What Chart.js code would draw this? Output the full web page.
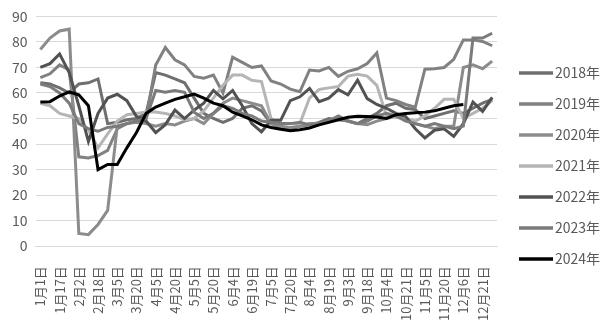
<!DOCTYPE html>
<html>
<head>
<meta charset="utf-8">
<script src="https://cdn.jsdelivr.net/npm/chart.js@4.4.1/dist/chart.umd.min.js"></script>
<style>
  html, body { margin: 0; padding: 0; background: #ffffff; }
</style>
</head>
<body>
<canvas id="grafico" width="607" height="334"></canvas>
<script>
// tick labels shown on the x axis (every second weekly point)
const rotulos = ['1月1日', '1月17日', '2月2日', '2月18日', '3月5日', '3月20日', '4月5日', '4月20日',
    '5月5日', '5月20日', '6月4日', '6月19日', '7月5日', '7月20日', '8月4日', '8月19日',
    '9月3日', '9月18日', '10月4日', '10月21日', '11月5日', '11月20日', '12月6日', '12月21日']

const anos = ['2018年', '2019年', '2020年', '2021年', '2022年', '2023年', '2024年']
const cores = ['#6f6f6f', '#818181', '#8c8c8c', '#b5b5b5', '#525252', '#7b7b7b', '#000000']

const valores2018 = [64, 63.5, 62, 60, 63.5, 64, 65.5, 48, 48.5, 49.5, 50, 52, 68, 67, 65.5, 64,
    58, 52, 50, 48.5, 50, 54, 55, 53, 48, 46.5, 46, 47, 47.5, 48.5, 50, 49.5,
    49, 48, 50, 52, 55, 56, 54, 53.5, 50, 51, 52, 53, 52, 54, 56, 57.5]
const valores2019 = [66, 67.5, 71, 69, 35, 34.5, 35.5, 37.5, 46, 48, 49, 50, 71, 77.8, 73, 71,
    66.5, 65.8, 67, 60, 74, 72, 70, 70.6, 64.7, 63.5, 61.5, 60.5, 69, 68.6, 70, 66.5,
    68.5, 69.5, 71.5, 75.7, 58, 57, 55.5, 54.4, 69.3, 69.5, 70, 73.2, 80.8, 80.8, 80.2, 78.5]
const valores2020 = [77, 81.5, 84.3, 85, 5, 4.5, 8.5, 14, 47, 48, 48.5, 48, 47, 48, 47.5, 49,
    50, 48, 52, 56, 58, 57, 56, 55, 48, 47, 46.5, 47, 48, 48, 49, 50,
    49, 48, 47.6, 49, 50, 51, 50, 48, 47, 46, 47, 47, 70, 71, 69.5, 72.5]
const valores2021 = [56, 55, 52, 51, 50, 45.5, 38.5, 44, 49, 51.5, 52, 52.5, 52.5, 52, 51, 49.5,
    50, 53, 58, 63, 67, 67, 65, 64.5, 50, 48, 48, 48, 58, 61.4, 62, 62.5,
    66.6, 67.3, 66.6, 63, 51, 50.5, 50, 49, 51, 54, 57.5, 57.5, 50, 52, 54, 57]
const valores2022 = [70, 71.5, 75.3, 68, 55, 41, 52, 58, 59.5, 57, 50.8, 49, 44.5, 47.6, 53.3, 50,
    53.3, 56, 61, 57.7, 61, 55, 48, 44.8, 49.3, 49.3, 57, 58.5, 61.8, 56.6, 58, 61.3,
    59.3, 65, 57.8, 55.5, 54, 52, 50.8, 46, 42.4, 45.4, 46, 43, 48, 56.4, 52.8, 58.3]
const valores2023 = [63.5, 62.5, 60, 56, 48, 46, 45, 46.5, 47, 48, 49, 50, 61, 60.3, 61, 60.3,
    52.5, 50, 52, 55, 54, 52, 51, 49, 48.5, 48, 48, 48.5, 47.5, 48, 49, 51,
    49, 48, 49, 51, 52, 51, 49, 48, 47, 48, 47, 46, 47, 81.5, 81.5, 83.4]
const valores2024 = [56.5, 56.6, 58.8, 60.4, 59.3, 55, 30, 32, 32, 38.5, 44.5, 52, 54.5, 56, 57.5, 58.5,
    59.6, 58, 56, 55, 52.5, 51, 49.5, 47.5, 46.5, 45.8, 45.2, 45.6, 46.3, 47.5, 48.5, 49.5,
    50.5, 50.9, 50.8, 50.6, 50, 51.5, 52, 52.3, 52.5, 53, 54, 55, 55.5, null, null, null]

const series = [valores2018, valores2019, valores2020, valores2021, valores2022, valores2023, valores2024]

// each label covers two weekly points; the in-between points carry no label
let categorias = []
for (let i = 0; i < rotulos.length; i++) {
    categorias.push(rotulos[i])
    categorias.push('')
}

let datasets = []
for (let i = 0; i < anos.length; i++) {
    datasets.push({
        label: anos[i],
        data: series[i],
        borderColor: cores[i],
        backgroundColor: cores[i],
        borderWidth: 3,
        pointRadius: 0,
        tension: 0,
        order: anos.length - i   // 2024 drawn last, on top
    })
}

const fonte = "'Noto Sans CJK SC', 'Noto Sans', sans-serif"

// legend like the excel one: short line + text, one row per year, in dataset order
const legendaLateral = {
    id: 'legendaLateral',
    afterDraw(chart) {
        const ctx = chart.ctx
        const area = chart.chartArea
        const x0 = area.right + 22
        const y0 = 73
        ctx.save()
        ctx.font = '14px ' + fonte
        ctx.textBaseline = 'middle'
        chart.data.datasets.forEach(function (ds, i) {
            const y = y0 + i * 31
            ctx.strokeStyle = ds.borderColor
            ctx.lineWidth = 3.5
            ctx.beginPath()
            ctx.moveTo(x0, y)
            ctx.lineTo(x0 + 34, y)
            ctx.stroke()
            ctx.fillStyle = '#595959'
            ctx.fillText(ds.label, x0 + 36, y)
        })
        ctx.restore()
    }
}

new Chart(document.getElementById('grafico'), {
    type: 'line',
    data: {
        labels: categorias,
        datasets: datasets
    },
    options: {
        responsive: false,
        animation: false,
        devicePixelRatio: 1,
        layout: { padding: { top: 6, left: 4, right: 110, bottom: 1 } },
        plugins: {
            tooltip: { enabled: false },
            legend: { display: false }
        },
        scales: {
            x: {
                offset: true,
                grid: { display: false },
                border: { color: '#d9d9d9' },
                ticks: {
                    autoSkip: false,
                    maxRotation: 90,
                    minRotation: 90,
                    padding: 12,
                    color: '#595959',
                    font: { family: fonte, size: 13 }
                }
            },
            y: {
                min: 0,
                max: 90,
                grid: { color: '#d9d9d9', drawTicks: false },
                border: { display: false },
                ticks: {
                    stepSize: 10,
                    padding: 8,
                    color: '#595959',
                    font: { family: fonte, size: 14 }
                }
            }
        }
    },
    plugins: [legendaLateral]
})
</script>
</body>
</html>
